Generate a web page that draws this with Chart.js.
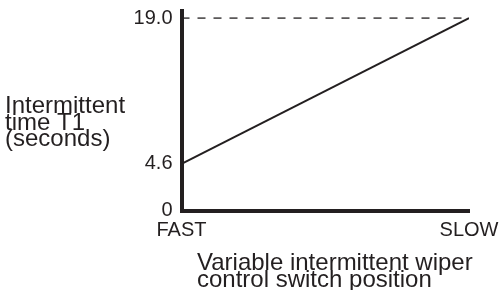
<!DOCTYPE html>
<html>
<head>
<meta charset="utf-8">
<script src="https://cdn.jsdelivr.net/npm/chart.js@4/dist/chart.umd.min.js"></script>
<style>
  html, body { margin: 0; padding: 0; background: #fff; }
  #wrap { width: 504px; height: 290px; position: relative; }
</style>
</head>
<body>
<div id="wrap"><canvas id="wiperChart"></canvas></div>
<script>
// switch position (0 = FAST, 1 = SLOW) vs intermittent time T1 in seconds
const switchPos = [0, 1];
const timeT1 = [4.6, 19.0];
const maxLine = [19.0, 19.0];

const xTickValues = [0, 1];
const xTickLabels = ['FAST', 'SLOW'];
const yTickValues = [0, 4.6, 19];
const yTickLabels = ['0', '4.6', '19.0'];

const yTitleLines = ['Intermittent', 'time T1', '(seconds)'];
const xTitleLines = ['Variable intermittent wiper', 'control switch position'];

const ink = '#231f20';
const fontFam = '"Liberation Sans", Arial, Helvetica, sans-serif';

// axis titles are drawn flat (not rotated), so draw them by hand
const freeText = {
  id: 'freeText',
  afterDraw(chart) {
    const ctx = chart.ctx;
    ctx.save();
    ctx.fillStyle = ink;
    ctx.font = '24px ' + fontFam;
    ctx.textAlign = 'left';
    ctx.textBaseline = 'alphabetic';
    yTitleLines.forEach((t, i) => ctx.fillText(t, 5, 113 + i * 16.5));
    xTitleLines.forEach((t, i) => ctx.fillText(t, 197, 270 + i * 16.7));
    ctx.restore();
  }
};

new Chart('wiperChart', {
  type: 'line',
  data: {
    datasets: [
      {
        data: switchPos.map((x, i) => ({ x: x, y: timeT1[i] })),
        borderColor: ink,
        borderWidth: 2,
        pointRadius: 0,
        tension: 0
      },
      {
        data: switchPos.map((x, i) => ({ x: x, y: maxLine[i] })),
        borderColor: ink,
        borderWidth: 1.3,
        borderDash: [8, 8],
        pointRadius: 0
      }
    ]
  },
  options: {
    responsive: true,
    maintainAspectRatio: false,
    animation: false,
    layout: { padding: { top: 11, right: 35, left: 0, bottom: 0 } },
    plugins: {
      legend: { display: false },
      tooltip: { enabled: false }
    },
    scales: {
      x: {
        type: 'linear',
        min: 0,
        max: 1,
        afterBuildTicks: s => { s.ticks = xTickValues.map(v => ({ value: v })); },
        afterFit: s => { s.height = 79.5; s.paddingLeft = 0; s.paddingRight = 0; },
        grid: { display: false, drawTicks: false },
        border: { display: true, color: ink, width: 4 },
        ticks: {
          color: ink,
          padding: 8,
          maxRotation: 0,
          font: { family: fontFam, size: 20 },
          callback: (v) => xTickLabels[xTickValues.indexOf(v)]
        }
      },
      y: {
        type: 'linear',
        min: 0,
        max: 19.7,
        afterBuildTicks: s => { s.ticks = yTickValues.map(v => ({ value: v })); },
        afterFit: s => { s.width = 181.5; s.paddingTop = 0; s.paddingBottom = 0; },
        grid: { display: false, drawTicks: false },
        border: { display: true, color: ink, width: 4 },
        ticks: {
          color: ink,
          padding: 9,
          font: { family: fontFam, size: 20 },
          callback: (v) => yTickLabels[yTickValues.indexOf(v)]
        }
      }
    }
  },
  plugins: [freeText]
});
</script>
</body>
</html>
